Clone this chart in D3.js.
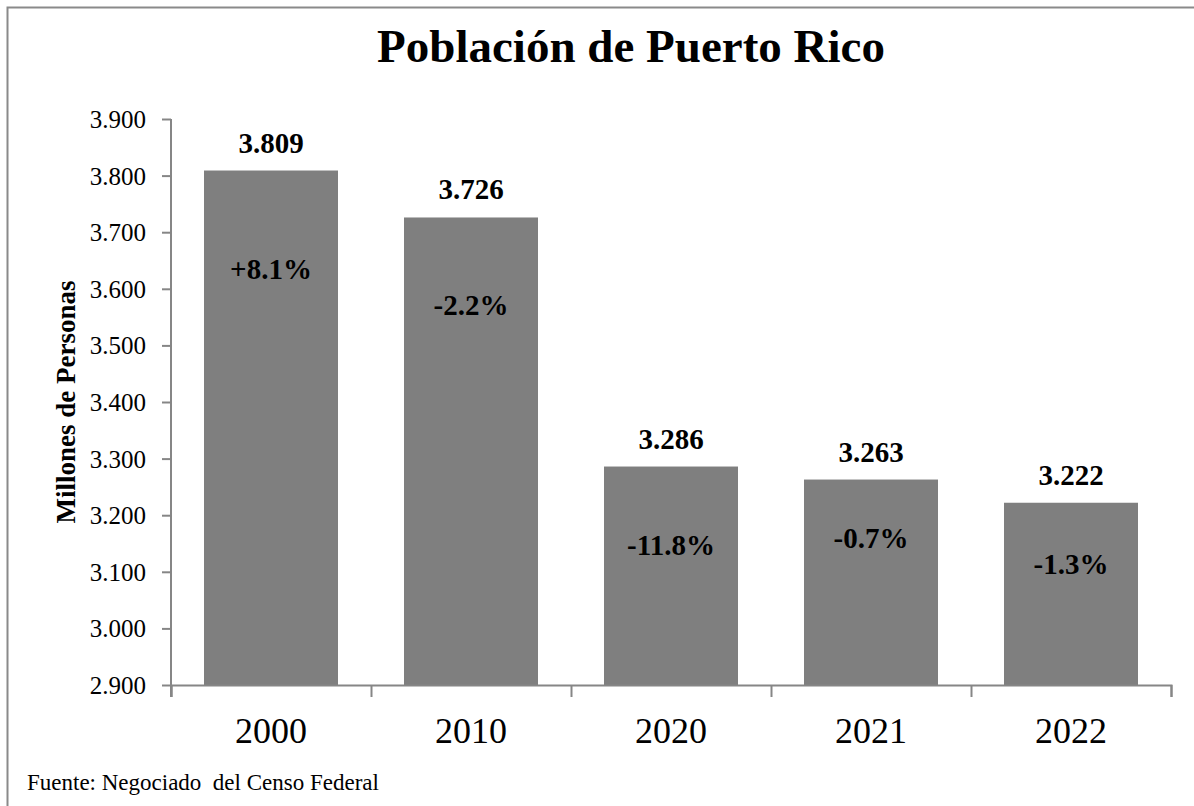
<!DOCTYPE html>
<html>
<head>
<meta charset="utf-8">
<script src="https://cdn.jsdelivr.net/npm/d3@7"></script>
<style>
  body { margin: 0; background: #fff; }
  text { font-family: "Liberation Serif", "Times New Roman", serif; fill: #000; }
</style>
</head>
<body>
<div id="chart"></div>
<script>
// Población de Puerto Rico (millones)
var years   = ["2000", "2010", "2020", "2021", "2022"];
var values  = [3.809, 3.726, 3.286, 3.263, 3.222];
var changes = ["+8.1%", "-2.2%", "-11.8%", "-0.7%", "-1.3%"];
var yTicks  = [2.9, 3.0, 3.1, 3.2, 3.3, 3.4, 3.5, 3.6, 3.7, 3.8, 3.9];

// the % labels were placed by hand in the original, so keep their drop (px below bar top)
var pctDrop = [108, 98, 88, 68, 71];

const width = 1194, height = 806;
const margin = { top: 119, right: 23, bottom: 121, left: 171 };

const svg = d3.select("#chart")
  .append("svg")
  .attr("width", width)
  .attr("height", height);

// outer frame (right/bottom run off the picture)
svg.append("rect")
  .attr("x", 7.5).attr("y", 7.5)
  .attr("width", width + 20).attr("height", height + 20)
  .attr("fill", "none")
  .attr("stroke", "#8a8a8a")
  .attr("stroke-width", 2);

var x = d3.scaleBand()
  .domain(years)
  .range([margin.left, width - margin.right])
  .paddingInner(0.33)
  .paddingOuter(0.165);

var xEdge = d3.scaleLinear()
  .domain([0, years.length])
  .range([margin.left, width - margin.right]);

var y = d3.scaleLinear()
  .domain([2.9, 3.9])
  .range([height - margin.bottom, margin.top]);

// bars
svg.append("g")
  .selectAll("rect")
  .data(years)
  .join("rect")
  .attr("x", d => x(d))
  .attr("y", (d, i) => y(values[i]))
  .attr("width", x.bandwidth())
  .attr("height", (d, i) => y(2.9) - y(values[i]))
  .attr("fill", "#7f7f7f");

// y axis
var yAxis = svg.append("g")
  .attr("transform", `translate(${margin.left},0)`)
  .call(d3.axisLeft(y).tickValues(yTicks).tickFormat(d3.format(".3f")).tickSize(9).tickPadding(16));
yAxis.select(".domain").attr("stroke", "#868686").attr("stroke-width", 2)
  .attr("d", `M0,${y(3.9)}V${y(2.9) + 12}`);
yAxis.selectAll(".tick line").attr("stroke", "#868686").attr("stroke-width", 2);
yAxis.selectAll(".tick text").style("font-size", "25px").attr("fill", "#000").attr("dy", "0.34em");

// x axis: ticks on the category edges
var xAxis = svg.append("g")
  .attr("transform", `translate(0,${height - margin.bottom})`)
  .call(d3.axisBottom(xEdge).ticks(years.length).tickFormat("").tickSize(12).tickSizeOuter(12));
xAxis.select(".domain").attr("stroke", "#868686").attr("stroke-width", 2);
xAxis.selectAll(".tick line").attr("stroke", "#868686").attr("stroke-width", 2);

svg.append("g")
  .selectAll("text")
  .data(years)
  .join("text")
  .attr("x", d => x(d) + x.bandwidth() / 2)
  .attr("y", height - margin.bottom + 58)
  .attr("text-anchor", "middle")
  .style("font-size", "36px")
  .text(d => d);

// value labels above bars
svg.append("g")
  .selectAll("text")
  .data(years)
  .join("text")
  .attr("x", d => x(d) + x.bandwidth() / 2)
  .attr("y", (d, i) => y(values[i]) - 18)
  .attr("text-anchor", "middle")
  .style("font-size", "29px")
  .style("font-weight", "bold")
  .text((d, i) => d3.format(".3f")(values[i]));

// % change labels inside bars
svg.append("g")
  .selectAll("text")
  .data(years)
  .join("text")
  .attr("x", d => x(d) + x.bandwidth() / 2)
  .attr("y", (d, i) => y(values[i]) + pctDrop[i])
  .attr("text-anchor", "middle")
  .style("font-size", "29px")
  .style("font-weight", "bold")
  .text((d, i) => changes[i]);

// title
svg.append("text")
  .attr("x", 631)
  .attr("y", 62)
  .attr("text-anchor", "middle")
  .style("font-size", "47px")
  .style("font-weight", "bold")
  .text("Población de Puerto Rico");

// y axis title
svg.append("text")
  .attr("transform", `translate(75,${(y(3.9) + y(2.9)) / 2}) rotate(-90)`)
  .attr("text-anchor", "middle")
  .style("font-size", "27px")
  .style("font-weight", "bold")
  .text("Millones de Personas");

// source note
svg.append("text")
  .attr("x", 27)
  .attr("y", 790)
  .style("font-size", "23px")
  .text("Fuente: Negociado \u00a0del Censo Federal");
</script>
</body>
</html>
